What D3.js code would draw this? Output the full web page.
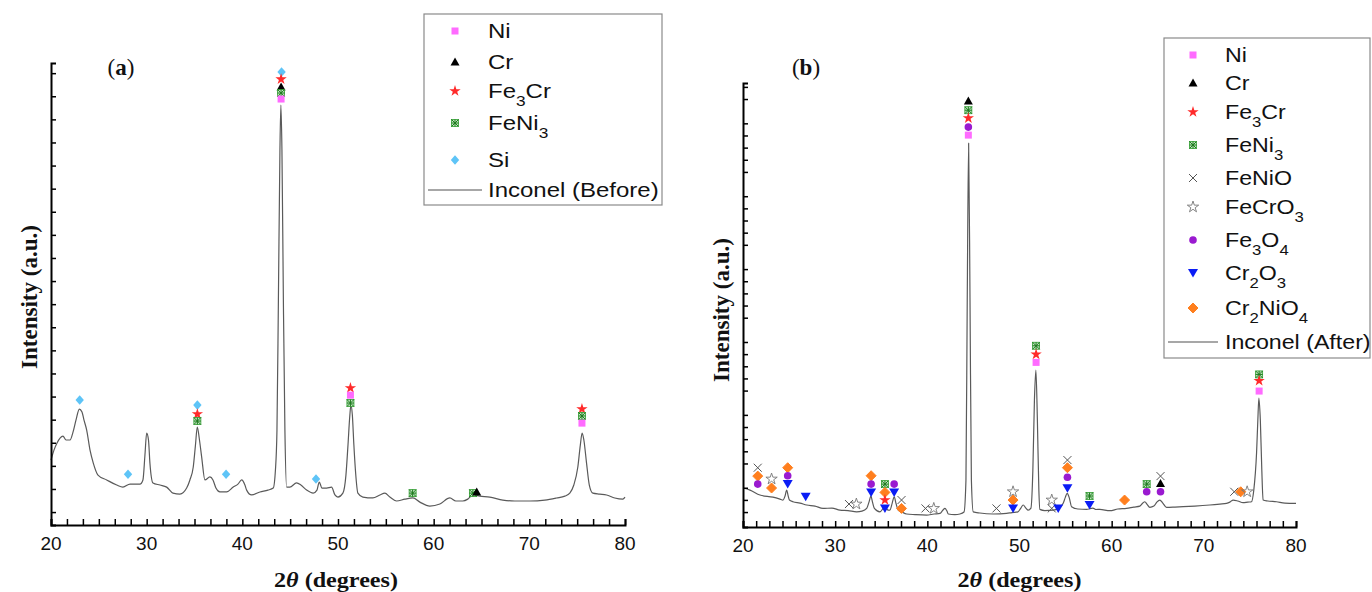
<!DOCTYPE html>
<html>
<head>
<meta charset="utf-8">
<script src="https://cdn.jsdelivr.net/npm/d3@7"></script>
<style>
  body { margin: 0; background: #fff; }
  svg { display: block; }
</style>
</head>
<body>
<svg id="chart" width="1372" height="592"></svg>
<script>
// ---- XRD scans: [2θ (deg), intensity (a.u.)] ----
const scanBefore = [
  [20.0, 281], [20.31, 324], [20.63, 355], [20.94, 376], [21.25, 385], [21.57, 368], [21.99, 368],
  [22.30, 402], [22.61, 454], [22.96, 502], [23.24, 489], [23.45, 454], [23.73, 411], [24.08, 324],
  [24.42, 268], [24.91, 216], [25.82, 195], [26.87, 173], [27.52, 164], [28.26, 177], [29.30, 177],
  [29.61, 195], [29.82, 303], [30.0, 398], [30.19, 368], [30.34, 268], [30.66, 182], [31.39, 173],
  [32.09, 164], [32.75, 138], [33.48, 134], [34.18, 160], [34.52, 195], [34.87, 251], [35.10, 346],
  [35.29, 424], [35.52, 368], [35.75, 294], [36.09, 195], [36.61, 208], [36.93, 195], [37.24, 160],
  [37.66, 143], [38.36, 143], [39.05, 164], [39.54, 177], [39.93, 195], [40.27, 173], [40.45, 151],
  [40.97, 130], [41.84, 143], [42.67, 151], [43.23, 160], [43.46, 238], [43.62, 411], [43.77, 974],
  [43.93, 1623], [44.03, 1818], [44.14, 1623], [44.29, 974], [44.45, 411], [44.63, 164], [44.97, 164],
  [45.67, 182], [46.12, 173], [46.72, 151], [47.41, 138], [47.80, 151], [48.04, 186], [48.32, 160],
  [48.81, 160], [49.33, 164], [49.68, 130], [49.99, 121], [50.51, 138], [50.83, 216], [51.03, 337],
  [51.24, 476], [51.35, 519], [51.50, 476], [51.66, 346], [51.82, 238], [52.08, 138], [52.60, 121],
  [53.65, 117], [54.38, 130], [54.90, 138], [55.42, 121], [56.12, 104], [56.99, 112], [57.83, 117],
  [58.56, 99], [59.60, 82], [60.65, 91], [61.69, 117], [62.32, 104], [63.05, 104], [63.57, 112],
  [64.10, 130], [64.83, 125], [65.87, 121], [67.23, 108], [68.48, 104], [70.05, 104], [71.62, 108],
  [72.84, 117], [73.71, 125], [74.23, 138], [74.65, 173], [75.07, 251], [75.33, 346], [75.52, 398],
  [75.70, 368], [75.98, 268], [76.27, 173], [76.64, 138], [77.37, 134], [78.07, 130], [78.93, 117],
  [79.77, 112], [80.0, 121]
];

const scanAfter = [
  [20.0, 321], [20.76, 304], [21.84, 263], [23.25, 246], [24.01, 230], [24.34, 222], [24.56, 255],
  [24.74, 304], [24.88, 263], [25.04, 222], [25.42, 208], [26.18, 197], [26.91, 181], [27.81, 172],
  [28.68, 153], [29.65, 156], [30.52, 139], [31.39, 135], [32.33, 125], [32.91, 131], [33.42, 153],
  [33.67, 205], [33.88, 255], [34.05, 205], [34.24, 156], [34.86, 125], [35.40, 167], [35.73, 139],
  [35.94, 139], [36.19, 197], [36.41, 249], [36.59, 197], [36.84, 139], [37.25, 123], [37.75, 107],
  [38.66, 102], [39.92, 98], [40.72, 107], [41.37, 112], [41.69, 139], [41.91, 153], [42.13, 131],
  [42.27, 107], [42.99, 102], [43.54, 107], [43.98, 123], [44.19, 386], [44.33, 1868], [44.48, 3160],
  [44.63, 1868], [44.78, 386], [44.98, 125], [45.70, 115], [47.15, 107], [48.60, 112], [49.18, 119],
  [49.83, 125], [50.15, 156], [50.40, 181], [50.69, 156], [50.94, 139], [51.24, 156], [51.45, 469],
  [51.62, 1045], [51.78, 1292], [51.94, 880], [52.10, 304], [52.21, 145], [52.75, 135], [53.66, 139],
  [54.16, 148], [54.74, 195], [54.98, 246], [55.17, 277], [55.41, 238], [55.65, 167], [56.33, 148],
  [57.28, 145], [57.96, 156], [58.29, 144], [58.72, 145], [59.80, 134], [60.67, 148], [61.61, 153],
  [62.40, 164], [63.06, 172], [63.38, 197], [63.60, 208], [63.82, 189], [64.14, 162], [64.58, 172],
  [64.90, 205], [65.23, 222], [65.55, 197], [65.95, 162], [66.85, 164], [67.76, 167], [69.02, 172],
  [70.65, 181], [71.74, 189], [72.46, 195], [72.82, 205], [73.18, 222], [73.69, 214], [74.26, 200],
  [74.77, 205], [75.17, 208], [75.42, 304], [75.72, 609], [75.86, 880], [75.97, 1061], [76.13, 880],
  [76.29, 469], [76.43, 222], [76.94, 214], [77.88, 208], [78.79, 197], [80.0, 195]
];

// ---- Phase identification marks: [phase, 2θ, intensity level of the mark] ----
const peaksBefore = [
  ["Si", 23.0, 541],
  ["Si", 28.05, 220],
  ["Si", 35.3, 519], ["Fe3Cr", 35.3, 480], ["FeNi3", 35.3, 450],
  ["Si", 38.3, 220],
  ["Si", 44.1, 1961], ["Fe3Cr", 44.05, 1930], ["Cr", 44.05, 1896], ["FeNi3", 44.05, 1870], ["Ni", 44.05, 1844],
  ["Si", 47.7, 199],
  ["Fe3Cr", 51.3, 593], ["Ni", 51.3, 562], ["FeNi3", 51.3, 528],
  ["FeNi3", 57.8, 138],
  ["FeNi3", 64.1, 138], ["Cr", 64.5, 143],
  ["Fe3Cr", 75.5, 502], ["FeNi3", 75.5, 472], ["Ni", 75.5, 441]
];

const peaksAfter = [
  ["FeNiO", 21.6, 488], ["Cr2NiO4", 21.6, 419], ["Fe3O4", 21.6, 353],
  ["FeCrO3", 23.1, 395], ["Cr2NiO4", 23.1, 321],
  ["Cr2NiO4", 24.85, 488], ["Fe3O4", 24.85, 422], ["Cr2O3", 24.85, 353],
  ["Cr2O3", 26.8, 249],
  ["FeNiO", 31.5, 189], ["FeCrO3", 32.3, 189],
  ["Cr2NiO4", 33.9, 422], ["Fe3O4", 33.9, 353], ["Cr2O3", 33.9, 285],
  ["FeNi3", 35.4, 353], ["Cr2NiO4", 35.4, 285], ["Fe3Cr", 35.4, 222], ["Cr2O3", 35.4, 153],
  ["Fe3O4", 36.4, 353], ["Cr2O3", 36.4, 285],
  ["FeNiO", 37.2, 222], ["Cr2NiO4", 37.2, 153],
  ["FeNiO", 39.8, 153], ["FeCrO3", 40.7, 153],
  ["Cr", 44.45, 3506], ["FeNi3", 44.45, 3431], ["Fe3Cr", 44.45, 3366], ["Fe3O4", 44.45, 3292], ["Ni", 44.45, 3226],
  ["FeNiO", 47.5, 153],
  ["FeCrO3", 49.3, 290], ["Cr2NiO4", 49.3, 222], ["Cr2O3", 49.3, 153],
  ["FeNi3", 51.8, 1492], ["Fe3Cr", 51.8, 1421], ["Ni", 51.8, 1355],
  ["FeCrO3", 53.5, 222], ["FeNiO", 53.5, 153], ["Cr2O3", 54.2, 153],
  ["FeNiO", 55.2, 551], ["Cr2NiO4", 55.2, 488], ["Fe3O4", 55.2, 409], ["Cr2O3", 55.2, 318],
  ["FeNi3", 57.6, 255], ["Cr2O3", 57.6, 181],
  ["Cr2NiO4", 61.4, 222],
  ["FeNi3", 63.8, 353], ["Fe3O4", 63.8, 290],
  ["FeNiO", 65.3, 419], ["Cr", 65.3, 359], ["Fe3O4", 65.3, 290],
  ["FeNiO", 73.3, 290], ["Cr2NiO4", 74.0, 290], ["FeCrO3", 74.7, 290],
  ["FeNi3", 76.0, 1256], ["Fe3Cr", 76.0, 1204], ["Ni", 76.0, 1119]
];

// Legend entries and axis labels
const legendBefore = ["Ni", "Cr", "Fe3Cr", "FeNi3", "Si"];
const legendAfter = ["Ni", "Cr", "Fe3Cr", "FeNi3", "FeNiO", "FeCrO3", "Fe3O4", "Cr2O3", "Cr2NiO4"];
const seriesNames = ["Inconel (Before)", "Inconel (After)"];
const xTickLabels = [20, 30, 40, 50, 60, 70, 80];

// ---- Marker styles per phase ----
const phaseStyle = {
  Ni:      { shape: "square",    color: "#ff6bff" },
  Cr:      { shape: "triangle",  color: "#000000" },
  Fe3Cr:   { shape: "star",      color: "#ff2a2a" },
  FeNi3:   { shape: "boxstar",   color: "#2e9e2e" },
  Si:      { shape: "diamond",   color: "#5ec4f7" },
  FeNiO:   { shape: "times",     color: "#555555" },
  FeCrO3:  { shape: "openstar",  color: "#777777" },
  Fe3O4:   { shape: "circle",    color: "#9a1ad0" },
  Cr2O3:   { shape: "tridown",   color: "#0a1cf5" },
  Cr2NiO4: { shape: "odiamond",  color: "#ff7f1e" }
};

const starPath = d3.symbol(d3.symbolStar).size(40)();

function drawMarker(g, phase, x, y) {
  const st = phaseStyle[phase];
  const m = g.append("g").attr("transform", `translate(${x},${y})`);
  switch (st.shape) {
    case "square":
      m.append("rect").attr("x", -3.5).attr("y", -3.5).attr("width", 7).attr("height", 7).attr("fill", st.color);
      break;
    case "triangle":
      m.append("path").attr("d", "M0,-4.5L4.5,3.5L-4.5,3.5Z").attr("fill", st.color);
      break;
    case "star":
      m.append("path").attr("d", starPath).attr("fill", st.color);
      break;
    case "openstar":
      m.append("path").attr("d", starPath).attr("fill", "none").attr("stroke", st.color).attr("stroke-width", 0.9);
      break;
    case "boxstar":
      m.append("rect").attr("x", -3.5).attr("y", -3.5).attr("width", 7).attr("height", 7)
        .attr("fill", "#bfe6bf").attr("stroke", st.color).attr("stroke-width", 0.8);
      m.append("path").attr("d", "M-3.5,-3.5L3.5,3.5M-3.5,3.5L3.5,-3.5M0,-3.5L0,3.5M-3.5,0L3.5,0")
        .attr("stroke", "#1f7a1f").attr("stroke-width", 1);
      break;
    case "diamond":
      m.append("path").attr("d", "M0,-4.8L4.2,0L0,4.8L-4.2,0Z").attr("fill", st.color);
      break;
    case "odiamond":
      m.append("path").attr("d", "M0,-5L5,0L0,5L-5,0Z").attr("fill", st.color)
        .attr("stroke", st.color).attr("stroke-width", 1).attr("stroke-linejoin", "round");
      break;
    case "times":
      m.append("path").attr("d", "M-4,-4L4,4M-4,4L4,-4").attr("stroke", st.color).attr("stroke-width", 1);
      break;
    case "circle":
      m.append("circle").attr("r", 3.8).attr("fill", st.color);
      break;
    case "tridown":
      m.append("path").attr("d", "M-5,-4L5,-4L0,4.5Z").attr("fill", st.color);
      break;
  }
}

// Phase formula with numeric subscripts
function formula(textSel, name) {
  name.split(/(\d+)/).filter(s => s.length).forEach(part => {
    if (/^\d+$/.test(part)) {
      textSel.append("tspan").attr("font-size", "0.72em").attr("baseline-shift", "sub").text(part);
    } else {
      textSel.append("tspan").text(part);
    }
  });
}

const svg = d3.select("#chart");
const serif = "'Liberation Serif', 'Times New Roman', serif";
const sans = "'Liberation Sans', Arial, sans-serif";

function drawPanel(cfg) {
  const g = svg.append("g");
  const x = d3.scaleLinear().domain([20, 80]).range([cfg.left, cfg.right]);
  const y = d3.scaleLinear().domain(cfg.yDomain).range([cfg.bottom, cfg.top]);

  // scan trace
  const line = d3.line().x(d => x(d[0])).y(d => y(d[1])).curve(d3.curveMonotoneX);
  g.append("path").datum(cfg.scan).attr("d", line)
    .attr("fill", "none").attr("stroke", "#5a5a5a").attr("stroke-width", 1.2).attr("stroke-linejoin", "round");

  // x axis (ticks pointing inward)
  const xAxis = d3.axisBottom(x).tickValues(cfg.xTicks).tickSize(-6).tickFormat("");
  const xa = g.append("g").attr("transform", `translate(0,${cfg.bottom})`).call(xAxis);
  xa.select(".domain").attr("stroke", "#000").attr("stroke-width", 2);
  xa.selectAll(".tick line").attr("stroke", "#000").attr("stroke-width", 1.5);
  g.selectAll(".xlab").data(xTickLabels).join("text")
    .attr("x", d => x(d)).attr("y", cfg.bottom + 25)
    .attr("text-anchor", "middle").attr("font-family", sans).attr("font-size", 19).attr("fill", "#111")
    .text(d => d);

  // y axis (unlabelled, ticks inward)
  const yAxis = d3.axisLeft(y).tickValues(cfg.yTicks).tickSize(-5).tickFormat("");
  const ya = g.append("g").attr("transform", `translate(${cfg.left},0)`).call(yAxis);
  ya.select(".domain").attr("stroke", "#000").attr("stroke-width", 2);
  ya.selectAll(".tick line").attr("stroke", "#000").attr("stroke-width", 1.5);

  // phase marks
  cfg.peaks.forEach(p => drawMarker(g, p[0], x(p[1]), y(p[2])));

  // axis titles
  const xt = g.append("text")
    .attr("transform", `translate(${(cfg.left + cfg.right) / 2 + cfg.xTitleDx},587) scale(1.15,1)`)
    .attr("text-anchor", "middle").attr("font-family", serif).attr("font-weight", "bold")
    .attr("font-size", 21).attr("fill", "#111");
  xt.append("tspan").text("2");
  xt.append("tspan").attr("font-style", "italic").text("θ");
  xt.append("tspan").text(" (degrees)");

  g.append("text").attr("transform", `translate(${cfg.yTitleX},${cfg.yTitleY}) rotate(-90)`)
    .attr("text-anchor", "middle").attr("font-family", serif).attr("font-weight", "bold")
    .attr("font-size", 23).attr("fill", "#111").text("Intensity (a.u.)");

  // panel tag
  const tag = g.append("text").attr("x", cfg.tagX).attr("y", 75).attr("text-anchor", "middle")
    .attr("font-family", serif).attr("font-size", 23).attr("fill", "#111");
  tag.append("tspan").text("(");
  tag.append("tspan").attr("font-weight", "bold").text(cfg.tag);
  tag.append("tspan").text(")");

  // legend
  const lg = cfg.legend;
  g.append("rect").attr("x", lg.x0).attr("y", lg.y0).attr("width", lg.x1 - lg.x0).attr("height", lg.y1 - lg.y0)
    .attr("fill", "#fff").attr("stroke", "#8a8a8a").attr("stroke-width", 1.2);
  cfg.legendItems.forEach((name, i) => {
    const yy = lg.rows[i];
    drawMarker(g, name, lg.markerX, yy);
    const t = g.append("text").attr("transform", `translate(${lg.textX},${yy + 7}) scale(${lg.stretch},1)`)
      .attr("font-family", sans).attr("font-size", lg.fontSize).attr("fill", "#111");
    formula(t, name);
  });
  const ly = lg.rows[cfg.legendItems.length];
  g.append("line").attr("x1", lg.lineX0).attr("x2", lg.lineX1).attr("y1", ly).attr("y2", ly)
    .attr("stroke", "#8a8a8a").attr("stroke-width", 1.3);
  g.append("text").attr("transform", `translate(${lg.textX},${ly + 7}) scale(${lg.stretch},1)`)
    .attr("font-family", sans).attr("font-size", lg.fontSize).attr("fill", "#111").text(cfg.seriesName);
}

// panel (a): before exposure
drawPanel({
  left: 51, right: 625, top: 63, bottom: 525,
  yDomain: [0, 2000],
  yTicks: d3.range(56, 2000, 100),
  xTicks: d3.range(0, 37).map(i => 20 + i * 10 / 6),
  scan: scanBefore, peaks: peaksBefore,
  xTitleDx: -2,
  yTitleX: 37, yTitleY: 297,
  tag: "a", tagX: 121,
  legendItems: legendBefore, seriesName: seriesNames[0],
  legend: { x0: 424, y0: 14, x1: 662, y1: 205, markerX: 455, textX: 488, lineX0: 428, lineX1: 482,
            fontSize: 20, stretch: 1.2, rows: [31, 62, 91, 123, 160, 190] }
});

// panel (b): after exposure
drawPanel({
  left: 743, right: 1296, top: 83, bottom: 527,
  yDomain: [0, 3655],
  yTicks: d3.range(123, 3655, 100).filter((d, i) => i % 6 !== 3),
  xTicks: d3.range(0, 43).map(i => 20 + i * 10 / 7),
  scan: scanAfter, peaks: peaksAfter,
  xTitleDx: 0,
  yTitleX: 729, yTitleY: 310,
  tag: "b", tagX: 806,
  legendItems: legendAfter, seriesName: seriesNames[1],
  legend: { x0: 1164, y0: 38, x1: 1370, y1: 358, markerX: 1193, textX: 1225, lineX0: 1168, lineX1: 1218,
            fontSize: 20, stretch: 1.16, rows: [55, 83, 112, 145, 178, 207, 240, 273, 308, 342] }
});
</script>
</body>
</html>
